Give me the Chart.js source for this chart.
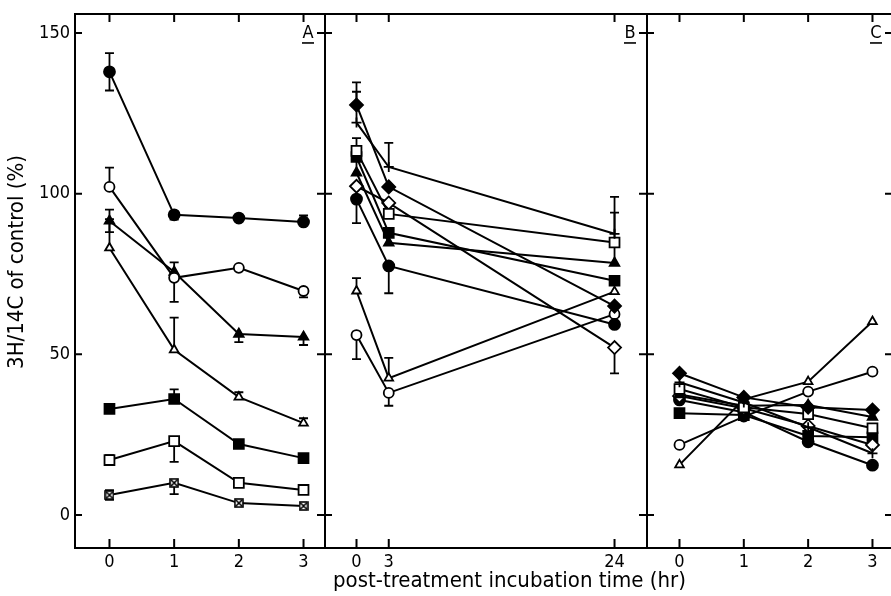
<!DOCTYPE html>
<html>
<head>
<meta charset="utf-8">
<script src="https://cdn.jsdelivr.net/npm/chart.js@4.4.1/dist/chart.umd.min.js"></script>
<style>
  html, body { margin: 0; padding: 0; background: #fff; overflow: hidden; }
  #wrap { position: relative; width: 891px; height: 596px; overflow: hidden; background: #fff; }
  #wrap canvas { position: absolute; left: 0; top: 0; }
</style>
</head>
<body>
<div id="wrap">
  <canvas id="panelA" width="891" height="596"></canvas>
  <canvas id="panelB" width="891" height="596"></canvas>
  <canvas id="panelC" width="891" height="596"></canvas>
</div>
<script>
// ---- sampling times (hr) ----
const hoursA = [0, 1, 2, 3];
const hoursB = [0, 3, 24];
const hoursC = [0, 1, 2, 3];
const yTickValues = [0, 50, 100, 150];

// ---- panel A: 3H/14C (% of control) ----
const A_filledCircle   = [137.9, 93.4, 92.4, 91.2];
const A_openCircle     = [102.1, 73.8, 76.9, 69.7];
const A_filledTriangle = [91.5, 75.6, 56.3, 55.4];
const A_openTriangle   = [83.1, 51.4, 36.7, 28.6];
const A_filledSquare   = [33.0, 36.1, 22.1, 17.7];
const A_openSquare     = [17.1, 23.0, 10.0, 7.8];
const A_crossSquare    = [6.2, 10.0, 3.7, 2.8];

const A_filledCircleUp   = [5.8, 0, 0, 2];
const A_filledCircleDown = [5.8, 1.5, 0, 0];
const A_openCircleUp     = [6, 0, 0, 0];
const A_openCircleDown   = [0, 7.5, 0, 2];
const A_filledTriUp      = [3.5, 3, 0, 0];
const A_filledTriDown    = [3.5, 0, 2.5, 2.5];
const A_openTriUp        = [9, 10, 1.5, 1.5];
const A_filledSquareUp   = [0, 3, 0, 0];
const A_openSquareUp     = [1.5, 0, 0, 0];
const A_openSquareDown   = [1.5, 6.5, 0, 0];
const A_crossSquareUp    = [1.5, 0, 0, 0];
const A_crossSquareDown  = [1.5, 3.5, 0, 0];

// ---- panel B ----
const B_filledDiamond  = [127.6, 102.1, 65.0];
const B_plus           = [122.1, 108.3, 87.5];
const B_openSquare     = [113.3, 93.7, 84.8];
const B_filledSquare   = [111.4, 87.8, 72.9];
const B_filledTriangle = [106.5, 84.7, 78.4];
const B_openDiamond    = [102.3, 97.1, 52.1];
const B_filledCircle   = [98.3, 77.5, 59.3];
const B_openTriangle   = [69.7, 42.6, 69.5];
const B_openCircle     = [56.0, 38.0, 62.5];

const B_filledDiamondUp = [7, 0, 0];
const B_plusUp          = [9.6, 7.5, 11.5];
const B_openSquareUp    = [4, 0, 9.3];
const B_filledTriUp     = [5, 0, 6];
const B_openDiamondDown = [0, 0, 8];
const B_filledCircleDown = [7.5, 8.5, 0];
const B_openTriUp       = [4, 6.3, 0];
const B_openCircleDown  = [7.5, 4, 0];

// ---- panel C ----
const C_filledDiamond  = [44.1, 36.6, 33.5, 32.7];
const C_plus           = [41.3, 35.0, 27.3, 19.2];
const C_openSquare     = [39.2, 33.5, 31.4, 27.0];
const C_filledTriangle = [37.5, 34.0, 34.2, 30.5];
const C_openDiamond    = [37.0, 33.2, 27.7, 21.8];
const C_filledCircle   = [35.8, 32.0, 22.8, 15.5];
const C_filledSquare   = [31.7, 31.1, 24.6, 24.2];
const C_openCircle     = [21.8, 30.6, 38.4, 44.6];
const C_openTriangle   = [15.6, 36.0, 41.5, 60.2];

// ---- drawing setup ----
const FONT = '"Liberation Sans Narrow", "DejaVu Sans Condensed", "Arial Narrow", sans-serif';
Chart.defaults.font.family = FONT;
Chart.defaults.font.size = 17;
Chart.defaults.color = '#000';

const Y_MIN = -10.27, Y_MAX = 155.9;

function crossedSquareImage(size) {
  const c = document.createElement('canvas');
  c.width = size; c.height = size;
  const g = c.getContext('2d');
  g.fillStyle = '#fff';
  g.fillRect(1, 1, size - 2, size - 2);
  g.strokeStyle = '#000';
  g.lineWidth = 1.6;
  g.strokeRect(1, 1, size - 2, size - 2);
  g.beginPath();
  g.moveTo(2, 2); g.lineTo(size - 2, size - 2);
  g.moveTo(size - 2, 2); g.lineTo(2, size - 2);
  g.stroke();
  return c;
}

const MARK = {
  filledCircle:   { pointStyle: 'circle',   pointRadius: 5.5, pointBackgroundColor: '#000' },
  openCircle:     { pointStyle: 'circle',   pointRadius: 5,   pointBackgroundColor: '#fff' },
  filledTriangle: { pointStyle: 'triangle', pointRadius: 5.5, pointBackgroundColor: '#000' },
  openTriangle:   { pointStyle: 'triangle', pointRadius: 5,   pointBackgroundColor: '#fff' },
  filledSquare:   { pointStyle: 'rect',     pointRadius: 7,   pointBackgroundColor: '#000' },
  openSquare:     { pointStyle: 'rect',     pointRadius: 7,   pointBackgroundColor: '#fff' },
  crossSquare:    { pointStyle: crossedSquareImage(10), pointRadius: 5, pointBackgroundColor: '#fff' },
  filledDiamond:  { pointStyle: 'rectRot',  pointRadius: 6.5, pointBackgroundColor: '#000' },
  openDiamond:    { pointStyle: 'rectRot',  pointRadius: 6.5, pointBackgroundColor: '#fff' },
  plus:           { pointStyle: 'cross',    pointRadius: 5,   pointBackgroundColor: '#000' }
};

function series(xs, ys, mark, up, down) {
  return Object.assign({
    data: xs.map((x, i) => ({ x: x, y: ys[i] })),
    showLine: true,
    fill: false,
    tension: 0,
    borderColor: '#000',
    borderWidth: 2,
    pointBorderColor: '#000',
    pointBorderWidth: 1.8,
    pointHoverRadius: 5,
    errUp: up || [],
    errDown: down || []
  }, MARK[mark]);
}

// one-sided T-capped error bars
const errorBars = {
  id: 'errorBars',
  beforeDatasetsDraw(chart) {
    const ctx = chart.ctx, y = chart.scales.y;
    ctx.save();
    ctx.strokeStyle = '#000';
    ctx.lineWidth = 1.8;
    chart.data.datasets.forEach((d, di) => {
      const meta = chart.getDatasetMeta(di);
      meta.data.forEach((pt, i) => {
        const v = d.data[i].y;
        [[d.errUp[i], 1], [d.errDown[i], -1]].forEach(([e, s]) => {
          if (!e) return;
          const yEnd = y.getPixelForValue(v + s * e);
          ctx.beginPath();
          ctx.moveTo(pt.x, pt.y);
          ctx.lineTo(pt.x, yEnd);
          ctx.moveTo(pt.x - 4.5, yEnd);
          ctx.lineTo(pt.x + 4.5, yEnd);
          ctx.stroke();
        });
      });
    });
    ctx.restore();
  }
};

// panel frame, inward tick marks, tick labels, panel letter and axis titles
const frame = {
  id: 'frame',
  afterDraw(chart, args, opts) {
    const ctx = chart.ctx, a = chart.chartArea, x = chart.scales.x, y = chart.scales.y;
    ctx.save();
    ctx.strokeStyle = '#000';
    ctx.lineWidth = 2;
    ctx.beginPath();
    ctx.moveTo(a.right, a.top); ctx.lineTo(a.left, a.top);
    ctx.lineTo(a.left, a.bottom); ctx.lineTo(a.right, a.bottom);
    if (!opts.openRight) ctx.lineTo(a.right, a.top);
    ctx.stroke();

    const tickRight = opts.openRight ? a.right + 2 : a.right;
    ctx.beginPath();
    yTickValues.forEach(v => {
      const py = y.getPixelForValue(v);
      ctx.moveTo(a.left, py); ctx.lineTo(a.left + 7, py);
      ctx.moveTo(tickRight - 8, py); ctx.lineTo(tickRight, py);
    });
    x.ticks.forEach(t => {
      const px = x.getPixelForValue(t.value);
      ctx.moveTo(px, a.top); ctx.lineTo(px, a.top + 8);
      ctx.moveTo(px, a.bottom); ctx.lineTo(px, a.bottom - 9);
    });
    ctx.stroke();

    ctx.fillStyle = '#000';
    ctx.font = '18px ' + FONT;
    ctx.textBaseline = 'middle';
    ctx.textAlign = 'center';
    x.ticks.forEach(t => {
      ctx.fillText(String(t.value), x.getPixelForValue(t.value), 562);
    });
    if (opts.yLabels) {
      ctx.textAlign = 'right';
      yTickValues.forEach(v => ctx.fillText(String(v), a.left - 5, y.getPixelForValue(v)));
    }
    if (opts.letter) {
      const lx = opts.letterX, ly = y.getPixelForValue(150);
      ctx.textAlign = 'center';
      ctx.fillText(opts.letter, lx, ly);
      ctx.lineWidth = 1.6;
      ctx.beginPath();
      ctx.moveTo(lx - 6, ly + 10); ctx.lineTo(lx + 6, ly + 10);
      ctx.stroke();
    }
    if (opts.xTitle) {
      ctx.font = '22px ' + FONT;
      ctx.textAlign = 'left';
      ctx.fillText(opts.xTitle, opts.xTitleX, 581);
    }
    if (opts.yTitle) {
      ctx.font = '22px ' + FONT;
      ctx.translate(17, 262);
      ctx.rotate(-Math.PI / 2);
      ctx.textAlign = 'center';
      ctx.fillText(opts.yTitle, 0, 0);
    }
    ctx.restore();
  }
};

function makePanel(id, hours, xMin, xMax, padLeft, padRight, showY, datasets, frameOpts) {
  return new Chart(document.getElementById(id), {
    type: 'scatter',
    data: { datasets: datasets },
    options: {
      responsive: false,
      animation: false,
      devicePixelRatio: 1,
      layout: { autoPadding: false, padding: { top: 14, bottom: 0, left: padLeft, right: padRight } },
      plugins: { legend: { display: false }, tooltip: { enabled: false }, frame: frameOpts },
      scales: {
        x: {
          type: 'linear', min: xMin, max: xMax,
          afterBuildTicks: s => { s.ticks = hours.map(v => ({ value: v })); },
          afterFit: s => { s.height = 48; },
          grid: { display: false },
          border: { display: false },
          ticks: { display: false }
        },
        y: {
          type: 'linear', min: Y_MIN, max: Y_MAX,
          display: showY,
          afterBuildTicks: s => { s.ticks = yTickValues.map(v => ({ value: v })); },
          afterFit: s => { s.width = showY ? 75 : 0; },
          grid: { display: false },
          border: { display: false },
          ticks: { display: false }
        }
      }
    },
    plugins: [errorBars, frame]
  });
}

makePanel('panelA', hoursA, -0.533, 3.332, 0, 891 - 325, true, [
  series(hoursA, A_filledCircle, 'filledCircle', A_filledCircleUp, A_filledCircleDown),
  series(hoursA, A_openCircle, 'openCircle', A_openCircleUp, A_openCircleDown),
  series(hoursA, A_filledTriangle, 'filledTriangle', A_filledTriUp, A_filledTriDown),
  series(hoursA, A_openTriangle, 'openTriangle', A_openTriUp),
  series(hoursA, A_filledSquare, 'filledSquare', A_filledSquareUp),
  series(hoursA, A_openSquare, 'openSquare', A_openSquareUp, A_openSquareDown),
  series(hoursA, A_crossSquare, 'crossSquare', A_crossSquareUp, A_crossSquareDown)
], { letter: 'A', letterX: 308, yLabels: true, yTitle: '3H/14C of control (%)' });

makePanel('panelB', hoursB, -2.93, 27.02, 325, 891 - 647, false, [
  series(hoursB, B_filledDiamond, 'filledDiamond', B_filledDiamondUp),
  series(hoursB, B_plus, 'plus', B_plusUp),
  series(hoursB, B_openSquare, 'openSquare', B_openSquareUp),
  series(hoursB, B_filledSquare, 'filledSquare'),
  series(hoursB, B_filledTriangle, 'filledTriangle', B_filledTriUp),
  series(hoursB, B_openDiamond, 'openDiamond', null, B_openDiamondDown),
  series(hoursB, B_filledCircle, 'filledCircle', null, B_filledCircleDown),
  series(hoursB, B_openTriangle, 'openTriangle', B_openTriUp),
  series(hoursB, B_openCircle, 'openCircle', null, B_openCircleDown)
], { letter: 'B', letterX: 630, xTitle: 'post-treatment incubation time (hr)', xTitleX: 333 });

makePanel('panelC', hoursC, -0.505, 3.288, 647, 0, false, [
  series(hoursC, C_filledDiamond, 'filledDiamond'),
  series(hoursC, C_plus, 'plus'),
  series(hoursC, C_openSquare, 'openSquare'),
  series(hoursC, C_filledTriangle, 'filledTriangle'),
  series(hoursC, C_openDiamond, 'openDiamond'),
  series(hoursC, C_filledCircle, 'filledCircle'),
  series(hoursC, C_filledSquare, 'filledSquare'),
  series(hoursC, C_openCircle, 'openCircle'),
  series(hoursC, C_openTriangle, 'openTriangle')
], { letter: 'C', letterX: 876, openRight: true });
</script>
</body>
</html>
